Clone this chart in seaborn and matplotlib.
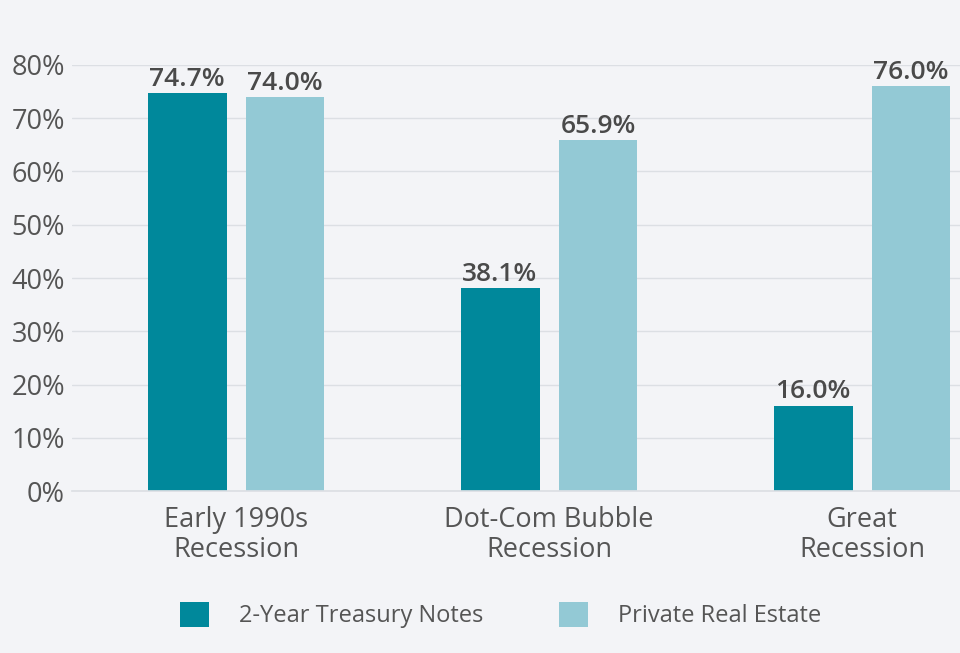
import seaborn as sns
import matplotlib.pyplot as plt
import pandas as pd

# Datos
periodos = ["Early 1990s\nRecession", "Dot-Com Bubble\nRecession", "Great\nRecession"]
treasury = [74.7, 38.1, 16.0]
real_estate = [74.0, 65.9, 76.0]
series = ["2-Year Treasury Notes", "Private Real Estate"]
colores = ["#00889b", "#93c9d5"]

df = pd.DataFrame({
    "periodo": periodos * 2,
    "valor": treasury + real_estate,
    "serie": [series[0]] * 3 + [series[1]] * 3,
})

sns.set_theme(style="white")
plt.rcParams["font.family"] = ["Open Sans", "DejaVu Sans"]
bg = "#f3f4f7"
gris = "#555555"

fig = plt.figure(figsize=(9.6, 6.53), dpi=100, facecolor=bg)
ax = fig.add_axes([0.075, 0.248, 0.925, 0.6525])
ax.set_facecolor(bg)

sns.barplot(data=df, x="periodo", y="valor", hue="serie", palette=colores,
            width=0.626, gap=0.194, saturation=1, linewidth=0, ax=ax, legend=True)

for cont in ax.containers:
    ax.bar_label(cont, fmt="%.1f%%", padding=1, fontsize=19, fontweight="semibold", color="#4a4a4a")

ax.set_ylim(0, 80)
ax.set_xlim(-0.524, 2.313)
ax.set_yticks(range(0, 81, 10))
ax.set_yticklabels([f"{v}%" for v in range(0, 81, 10)])
ax.yaxis.grid(True, color="#dcdfe4", linewidth=1)
ax.set_axisbelow(True)
ax.tick_params(axis="y", length=0, pad=5, labelsize=19.5, labelcolor=gris)
ax.tick_params(axis="x", length=0, pad=11, labelsize=19.5, labelcolor=gris)
for lbl in ax.get_xticklabels():
    lbl.set_linespacing(1.1)
ax.set_xlabel("")
ax.set_ylabel("")
for s in ["top", "right", "left"]:
    ax.spines[s].set_visible(False)
ax.spines["bottom"].set_color("#dcdfe4")

handles, labels = ax.get_legend_handles_labels()
ax.get_legend().remove()
fig.legend(handles, labels, loc="center", bbox_to_anchor=(0.521, 0.058), ncol=2,
           frameon=False, fontsize=17, labelcolor=gris, handlelength=1.25,
           handleheight=1.25, handletextpad=1.25, columnspacing=3.2)

fig.savefig("out.png", dpi=100, facecolor=bg)
